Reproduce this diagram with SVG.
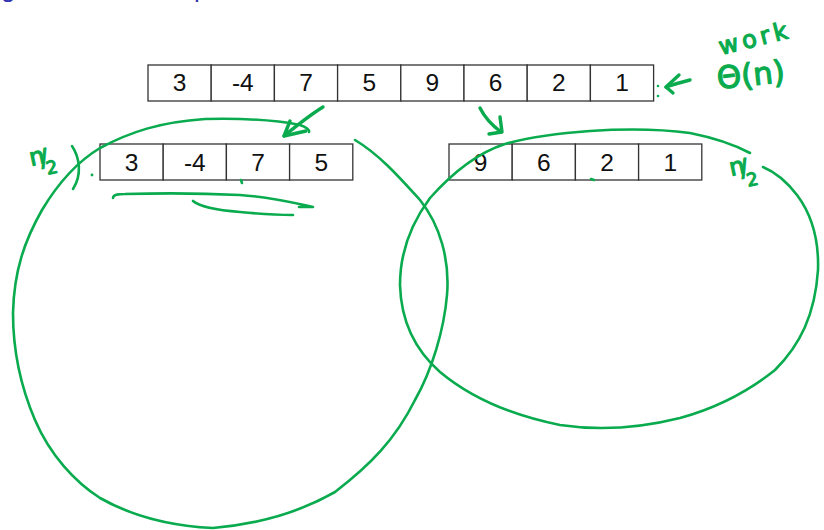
<svg xmlns="http://www.w3.org/2000/svg" width="824" height="530" viewBox="0 0 824 530">
<style>
.cell{fill:#fff;stroke:#333;stroke-width:1.3}
.num{font-family:"Liberation Sans",Arial,sans-serif;font-size:24.5px;fill:#111;text-anchor:middle}
.ink{fill:none;stroke:#0aab4e;stroke-width:2.6;stroke-linecap:round;stroke-linejoin:round}
.ink2{fill:none;stroke:#0aab4e;stroke-width:3.4;stroke-linecap:round;stroke-linejoin:round}
.hand{font-family:"DejaVu Sans","Liberation Sans",sans-serif;fill:#0aab4e;stroke:#0aab4e;stroke-width:1.2;stroke-linejoin:round}
.title{font-family:"Liberation Sans",Arial,sans-serif;font-size:26px;fill:#3333b3}
</style>
<rect width="824" height="530" fill="#fff"/>
<text class="title" x="1" y="-3">g</text>
<text class="title" x="194" y="-3">p</text>

<g id="array-top">
<rect class="cell" x="148" y="65" width="63.2" height="36"/>
<rect class="cell" x="211.2" y="65" width="63.2" height="36"/>
<rect class="cell" x="274.4" y="65" width="63.2" height="36"/>
<rect class="cell" x="337.6" y="65" width="63.2" height="36"/>
<rect class="cell" x="400.8" y="65" width="63.2" height="36"/>
<rect class="cell" x="464" y="65" width="63.2" height="36"/>
<rect class="cell" x="527.2" y="65" width="63.2" height="36"/>
<rect class="cell" x="590.4" y="65" width="63.2" height="36"/>
<text class="num" x="179.6" y="91">3</text>
<text class="num" x="242.8" y="91">-4</text>
<text class="num" x="306" y="91">7</text>
<text class="num" x="369.2" y="91">5</text>
<text class="num" x="432.4" y="91">9</text>
<text class="num" x="495.6" y="91">6</text>
<text class="num" x="558.8" y="91">2</text>
<text class="num" x="622" y="91">1</text>
</g>

<g id="array-left">
<rect class="cell" x="100" y="144" width="63.2" height="36"/>
<rect class="cell" x="163.2" y="144" width="63.2" height="36"/>
<rect class="cell" x="226.4" y="144" width="63.2" height="36"/>
<rect class="cell" x="289.6" y="144" width="63.2" height="36"/>
<text class="num" x="131.6" y="171">3</text>
<text class="num" x="194.8" y="171">-4</text>
<text class="num" x="258" y="171">7</text>
<text class="num" x="321.2" y="171">5</text>
</g>

<g id="array-right">
<rect class="cell" x="449" y="144" width="63.2" height="36"/>
<rect class="cell" x="512.2" y="144" width="63.2" height="36"/>
<rect class="cell" x="575.4" y="144" width="63.2" height="36"/>
<rect class="cell" x="638.6" y="144" width="63.2" height="36"/>
<text class="num" x="480.6" y="171">9</text>
<text class="num" x="543.8" y="171">6</text>
<text class="num" x="607" y="171">2</text>
<text class="num" x="670.2" y="171">1</text>
</g>

<g id="left-circle">
<path class="ink" d="M355,140 C380,155 400,178 420,200 C440,225 450,260 447,295 C444,330 432,370 415,400 C395,440 370,465 335,492 C300,512 260,524 213,528 C170,526 130,515 100,498 C75,482 50,455 35,420 C20,385 13,350 13,313 C14,270 25,240 42,210 C60,180 80,160 100,148 C130,132 160,122 205,119 C245,118 280,121 300,125 C306,127 310,130 309,132"/>
</g>

<g id="right-ellipse">
<path class="ink" d="M750,153 C735,145 715,138 690,133 C660,129 620,129 590,131 C560,133 530,137 505,144 C480,152 455,170 430,198 C410,225 400,255 400,285 C401,320 415,350 440,372 C470,397 510,415 560,425 C600,431 640,428 680,418 C720,407 750,390 775,370 C800,345 815,315 818,270 C819,240 812,215 797,195 C787,182 775,172 763,167"/>
</g>

<g id="notes">
<path class="ink" d="M113,198 C113,195 116,194 125,194 C160,193 200,193 240,195 C270,197 290,202 313,207 L299,207"/>
<path class="ink" d="M193,201 C200,207 215,210 240,212 C260,214 280,215 293,215"/>
<path class="ink" d="M241,180 L242,183"/>
<path class="ink" d="M591,179 L594,180"/>
<circle cx="658" cy="86" r="1.3" fill="#0aab4e"/>
<circle cx="658" cy="96" r="1.3" fill="#0aab4e"/>
<circle cx="92" cy="175" r="1.4" fill="#0aab4e"/>
<text class="hand" x="721" y="55" font-size="24" letter-spacing="4" transform="rotate(-14 721 55)">work</text>
<text class="hand" x="718" y="89" font-size="31" transform="rotate(-6 718 89)">Θ(n)</text>
<text class="hand" x="31" y="166" font-size="24" transform="rotate(-12 31 166)">n<tspan dx="-5" dy="3">/</tspan><tspan dx="-4" dy="9" font-size="18">2</tspan></text>
<path class="ink" d="M72,146 C80,158 82,175 73,189"/>
<text class="hand" x="731" y="176" font-size="24" transform="rotate(-12 731 176)">n<tspan dx="-5" dy="3">/</tspan><tspan dx="-4" dy="11" font-size="18">2</tspan></text>
</g>

<g id="connectors">
<path class="ink2" d="M323,107 C310,115 295,127 284,136"/>
<path class="ink2" d="M290,121 L284,136 L306,131"/>
<path class="ink2" d="M480,108 C485,118 493,126 501,132"/>
<path class="ink2" d="M500,117 L502,132 L489,134"/>
<path class="ink2" d="M690,80 C682,82 675,84 666,87"/>
<path class="ink2" d="M679,75 L666,87 L673,93"/>
</g>
</svg>
